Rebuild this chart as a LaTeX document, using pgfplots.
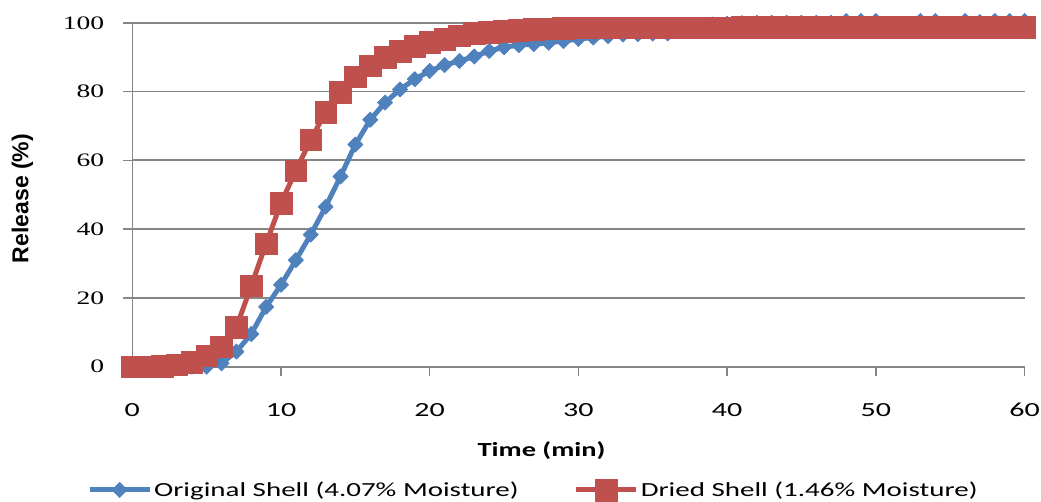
\documentclass[border=0pt]{standalone}
\usepackage{pgfplots}
\pgfplotsset{compat=1.18}
\usepackage{fontspec}
\usepackage{graphicx}
\setmainfont{Carlito}
\newfontfamily\arialfont{Liberation Sans}
\newfontfamily\serifticks{Liberation Serif}
\definecolor{exblue}{HTML}{4F81BD}
\definecolor{exred}{HTML}{C0504D}
\definecolor{gridgray}{HTML}{868686}

\pgfplotstableread{
t v
0 0
1 0
2 0
3 0
4 0
5 0
6 1
7 4.4
8 9.5
9 17.4
10 23.8
11 31
12 38.4
13 46.5
14 55.3
15 64.6
16 71.8
17 76.8
18 80.6
19 83.6
20 86
21 87.7
22 88.9
23 90.2
24 91.8
25 92.9
26 93.5
27 93.8
28 94.2
29 94.7
30 95.3
31 95.7
32 96.1
33 96.6
34 96.7
35 96.9
36 96.9
37 97.8
38 98.6
39 99.5
40 99.7
41 99.9
42 100
43 100
44 100
45 100
46 100
47 100
48 100.5
49 100.5
50 100.5
51 99.3
52 99.3
53 100.5
54 100.5
55 99.3
56 100.5
57 100.2
58 100.5
59 100.5
60 100.5
}\original

\pgfplotstableread{
t v
0 0
1 0
2 0.2
3 0.6
4 1.3
5 3.2
6 5.8
7 11.5
8 23.5
9 35.8
10 47.6
11 57
12 66
13 74
14 79.8
15 84.3
16 87.5
17 90
18 91.8
19 93.2
20 94.3
21 95.3
22 96.2
23 96.9
24 97.3
25 97.6
26 97.9
27 98.1
28 98.3
29 98.4
30 98.5
31 98.5
32 98.5
33 98.5
34 98.5
35 98.5
36 98.6
37 98.6
38 98.6
39 98.6
40 98.6
41 98.7
42 98.7
43 98.7
44 98.7
45 98.7
46 98.7
47 98.7
48 98.7
49 98.7
50 98.7
51 98.7
52 98.7
53 98.7
54 98.7
55 98.7
56 98.7
57 98.7
58 98.7
59 98.7
60 98.7
}\dried

\begin{document}
\begin{tikzpicture}
\useasboundingbox (0,0) rectangle (1041pt,502pt);
\begin{axis}[
  at={(132.3pt,135.3pt)}, anchor=south west,
  scale only axis, width=892.2pt, height=343.9pt,
  xmin=0, xmax=60, ymin=0, ymax=100,
  axis lines*=left,
  axis line style={gridgray, line width=1.5pt},
  xtick={0,10,20,30,40,50,60},
  ytick={0,20,40,60,80,100},
  tick align=outside, major tick length=9pt,
  tick style={gridgray, line width=1.5pt},
  ymajorgrids, grid style={gridgray, line width=1.8pt},
  clip=false,
  /pgf/number format/assume math mode=true,
  xticklabel={\scalebox{1.5}[1]{\pgfmathprintnumber{\tick}}},
  xticklabel style={font=\fontsize{20}{20}\selectfont, anchor=center, yshift=-34pt},
  yticklabel={\scalebox{1.45}[1]{\pgfmathprintnumber{\tick}}},
  yticklabel style={font=\fontsize{19}{19}\serifticks\selectfont, anchor=east, inner sep=0pt, xshift=-19pt},
  xlabel={\scalebox{1.42}[1]{\bfseries Time (min)}},
  xlabel style={font=\fontsize{20}{20}\selectfont, at={(rel axis cs:0.4587,-0.2451)}, anchor=center},
  ylabel={\arialfont\bfseries Release (\%)},
  ylabel style={font=\fontsize{23}{23}\selectfont, at={(rel axis cs:-0.1231,0.489)}, anchor=center},
  legend columns=2,
  legend style={draw=none, fill=none, inner sep=0pt, font=\fontsize{20}{20}\selectfont,
    at={(axis cs:-3.05,-35.84)}, anchor=west,
    /tikz/every even column/.append style={column sep=53pt}},
  legend image code/.code={\draw[mark repeat=2,mark phase=2,#1] plot coordinates {(0pt,0pt) (30pt,0pt) (60pt,0pt)};},
]
\addplot[exblue, line width=5pt, line join=round, mark=square*, mark size=5.4pt,
  mark options={solid, rotate=45, fill=exblue, draw=exblue, line width=0.6pt}] table[x=t,y=v] {\original};
\addlegendentry{\scalebox{1.45}[1]{Original Shell (4.07\% Moisture)}}
\addplot[exred, line width=5pt, line join=round, mark=square*, mark size=10.8pt,
  mark options={solid, fill=exred, draw=exred, line width=0.5pt}] table[x=t,y=v] {\dried};
\addlegendentry{\scalebox{1.45}[1]{Dried Shell (1.46\% Moisture)}}
\end{axis}
\end{tikzpicture}
\end{document}
